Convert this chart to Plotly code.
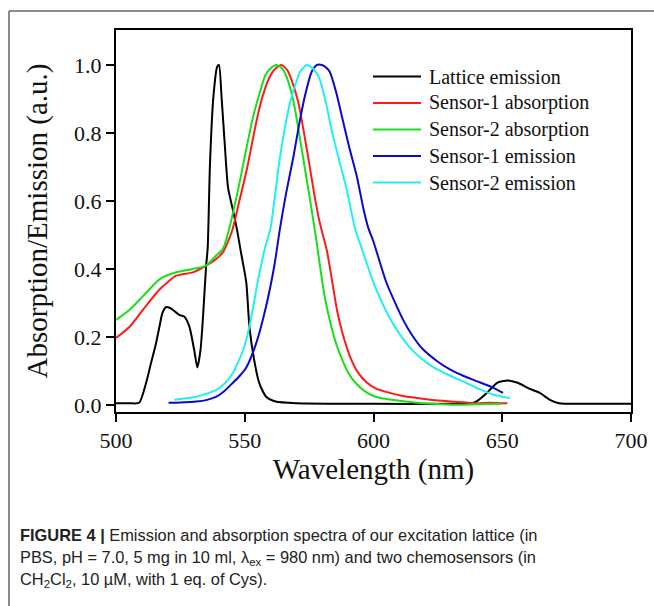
import plotly.graph_objects as go

# ---------------- data ----------------
series_names = ["Lattice emission", "Sensor-1 absorption", "Sensor-2 absorption",
                "Sensor-1 emission", "Sensor-2 emission"]
series_colors = ["#000000", "#ff1a1a", "#18e018", "#0a0ac8", "#22f0f0"]

lattice_x = [500, 505, 509, 511.7, 513.5, 515.5, 517, 518, 519.5, 521, 522, 524.5, 526.5, 528.5,
             530.4, 531.6, 532.8, 533.8, 535, 535.6, 536.5, 537.8, 539.3, 540, 541, 542.3, 543.5,
             545.5, 547, 548.5, 550.6, 551.8, 553.7, 555.6, 558.3, 562, 570, 600, 630, 638, 640,
             644, 648, 652, 656, 660.7, 664.6, 668.5, 672, 680, 690, 700]
lattice_y = [0.005, 0.005, 0.006, 0.065, 0.12, 0.18, 0.235, 0.27, 0.288, 0.285, 0.28, 0.265, 0.26,
             0.23, 0.16, 0.11, 0.16, 0.26, 0.41, 0.46, 0.71, 0.905, 0.995, 1.0, 0.905, 0.76, 0.64,
             0.57, 0.515, 0.45, 0.36, 0.23, 0.13, 0.065, 0.024, 0.01, 0.005, 0.003, 0.003, 0.005,
             0.01, 0.035, 0.065, 0.072, 0.065, 0.047, 0.035, 0.015, 0.005, 0.003, 0.003, 0.003]

s1_abs_x = [500, 505.3, 510.5, 517, 523.4, 529.8, 535, 539, 541.6, 545, 547.6, 551, 554.7, 557,
            560, 562, 564.3, 566.5, 568, 570.8, 574.6, 577, 579, 582, 585.8, 588, 591, 594,
            597.5, 601, 606, 611, 617, 623, 630, 636, 640, 645, 650, 652]
s1_abs_y = [0.197, 0.23, 0.28, 0.34, 0.38, 0.39, 0.41, 0.43, 0.45, 0.51, 0.59, 0.70, 0.84, 0.91,
            0.97, 0.99, 1.0, 0.985, 0.96, 0.89, 0.73, 0.62, 0.54, 0.45, 0.28, 0.21, 0.14, 0.095,
            0.065, 0.048, 0.036, 0.027, 0.02, 0.014, 0.01, 0.007, 0.005, 0.006, 0.005, 0.005]

s2_abs_x = [500, 505.3, 510.5, 517, 523.4, 529.8, 535, 539, 541.6, 544, 547.6, 550, 553, 555.5,
            558, 560, 562.4, 564.5, 566.5, 569, 572.6, 575, 577.5, 579, 581, 583, 585.5, 588,
            590.5, 593.6, 597, 600, 605, 610, 617, 623, 632, 640, 650]
s2_abs_y = [0.25, 0.28, 0.32, 0.37, 0.39, 0.40, 0.41, 0.44, 0.46, 0.52, 0.64, 0.73, 0.84, 0.91,
            0.97, 0.99, 1.0, 0.99, 0.96, 0.89, 0.73, 0.62, 0.50, 0.42, 0.32, 0.25, 0.18, 0.13,
            0.09, 0.06, 0.038, 0.026, 0.017, 0.012, 0.006, 0.003, 0.0, 0.002, 0.003]

s1_em_x = [520.4, 525, 531.3, 535, 539, 542, 545.4, 548, 550.6, 554.4, 558.3, 561.5, 563.7, 566,
           568.9, 571, 573.4, 576, 578, 580, 582, 583, 585.5, 588, 590.5, 593.6, 596, 598, 600,
           605, 611.5, 615, 619, 625, 630, 635, 640, 646, 650.3]
s1_em_y = [0.006, 0.007, 0.01, 0.014, 0.024, 0.04, 0.065, 0.085, 0.11, 0.18, 0.29, 0.41, 0.52,
           0.62, 0.73, 0.82, 0.91, 0.98, 1.0, 1.0, 0.99, 0.98, 0.92, 0.84, 0.76, 0.67, 0.58, 0.52,
           0.48, 0.36, 0.25, 0.205, 0.165, 0.127, 0.103, 0.085, 0.07, 0.052, 0.035]

s2_em_x = [522.7, 531.2, 539, 542.5, 545.4, 549.3, 551.8, 555, 557.8, 560, 563.7, 567.6, 570,
           571.5, 574, 576.5, 579, 581.5, 584, 587, 589.7, 592.8, 595, 600, 606, 610, 614, 618,
           623, 630, 636, 641, 646.6, 653]
s2_em_y = [0.015, 0.024, 0.044, 0.065, 0.094, 0.16, 0.23, 0.36, 0.46, 0.52, 0.73, 0.89, 0.95,
           0.98, 1.0, 0.99, 0.96, 0.89, 0.80, 0.71, 0.63, 0.52, 0.47, 0.36, 0.26, 0.21, 0.17,
           0.14, 0.112, 0.085, 0.065, 0.047, 0.03, 0.02]

x_tick_vals = [500, 550, 600, 650, 700]
y_tick_vals = [0.0, 0.2, 0.4, 0.6, 0.8, 1.0]
x_title = "Wavelength (nm)"
y_title = "Absorption/Emission (a.u.)"
caption_lines = [
    "<b>FIGURE 4 |</b> Emission and absorption spectra of our excitation lattice (in",
    "PBS, pH = 7.0, 5 mg in 10 ml, λ<sub>ex</sub> = 980 nm) and two chemosensors (in",
    "CH<sub>2</sub>Cl<sub>2</sub>, 10 µM, with 1 eq. of Cys).",
]

xs = [lattice_x, s1_abs_x, s2_abs_x, s1_em_x, s2_em_x]
ys = [lattice_y, s1_abs_y, s2_abs_y, s1_em_y, s2_em_y]

# ---------------- figure ----------------
W, H = 654, 606
ML, MR, MT, MB = 116, 23, 30, 194
PW, PH = W - ML - MR, H - MT - MB


def px2paper(px, py):
    return (px - ML) / PW, (H - MB - py) / PH


SERIF = "Liberation Serif, Times New Roman, serif"
SANS = "Liberation Sans, Arial, sans-serif"

fig = go.Figure()
for name, color, x, y in zip(series_names, series_colors, xs, ys):
    fig.add_trace(go.Scatter(x=x, y=y, mode="lines", name=name,
                             line=dict(color=color, width=2, shape="spline", smoothing=0.6),
                             showlegend=False))

shapes = []
annotations = []

# custom legend (long line samples like the original)
for i, (name, color) in enumerate(zip(series_names, series_colors)):
    py = 76.5 + i * 26.5
    x0, yy = px2paper(373, py)
    x1, _ = px2paper(421, py)
    shapes.append(dict(type="line", xref="paper", yref="paper", x0=x0, x1=x1, y0=yy, y1=yy,
                       line=dict(color=color, width=2)))
    tx, _ = px2paper(427, py)
    annotations.append(dict(xref="paper", yref="paper", x=tx, y=yy, text=name, showarrow=False,
                            xanchor="left", yanchor="middle",
                            font=dict(family=SERIF, size=20, color="#111")))

# outer frame lines (top and left)
fx0, fy0 = px2paper(9, 11)
fx1, fy1 = px2paper(654, 606)
shapes.append(dict(type="line", xref="paper", yref="paper", x0=fx0, x1=fx1, y0=fy0, y1=fy0,
                   line=dict(color="#666", width=1.5)))
shapes.append(dict(type="line", xref="paper", yref="paper", x0=fx0, x1=fx0, y0=fy0, y1=fy1,
                   line=dict(color="#666", width=1.5)))

# caption
for i, line in enumerate(caption_lines):
    cx, cy = px2paper(18, 535 + i * 22.5)
    annotations.append(dict(xref="paper", yref="paper", x=cx, y=cy, text=line, showarrow=False,
                            xanchor="left", yanchor="middle", align="left",
                            font=dict(family=SANS, size=16.4, color="#222")))

axis_common = dict(showline=True, linecolor="black", linewidth=2, mirror=True,
                   ticks="outside", ticklen=8, tickwidth=2, tickcolor="black",
                   showgrid=False, zeroline=False,
                   tickfont=dict(family=SERIF, size=22, color="#111"))

fig.update_layout(
    width=W, height=H,
    margin=dict(l=ML, r=MR, t=MT, b=MB, autoexpand=False),
    paper_bgcolor="white", plot_bgcolor="white",
    xaxis=dict(range=[500, 700], tickvals=x_tick_vals,
               title=dict(text=x_title, font=dict(family=SERIF, size=29, color="#111"), standoff=6),
               **axis_common),
    yaxis=dict(range=[-0.021, 1.103], tickvals=y_tick_vals, tickformat=".1f",
               title=dict(text=y_title, font=dict(family=SERIF, size=29, color="#111"), standoff=18),
               **axis_common),
    shapes=shapes,
    annotations=annotations,
)

fig.write_html("out.html")
